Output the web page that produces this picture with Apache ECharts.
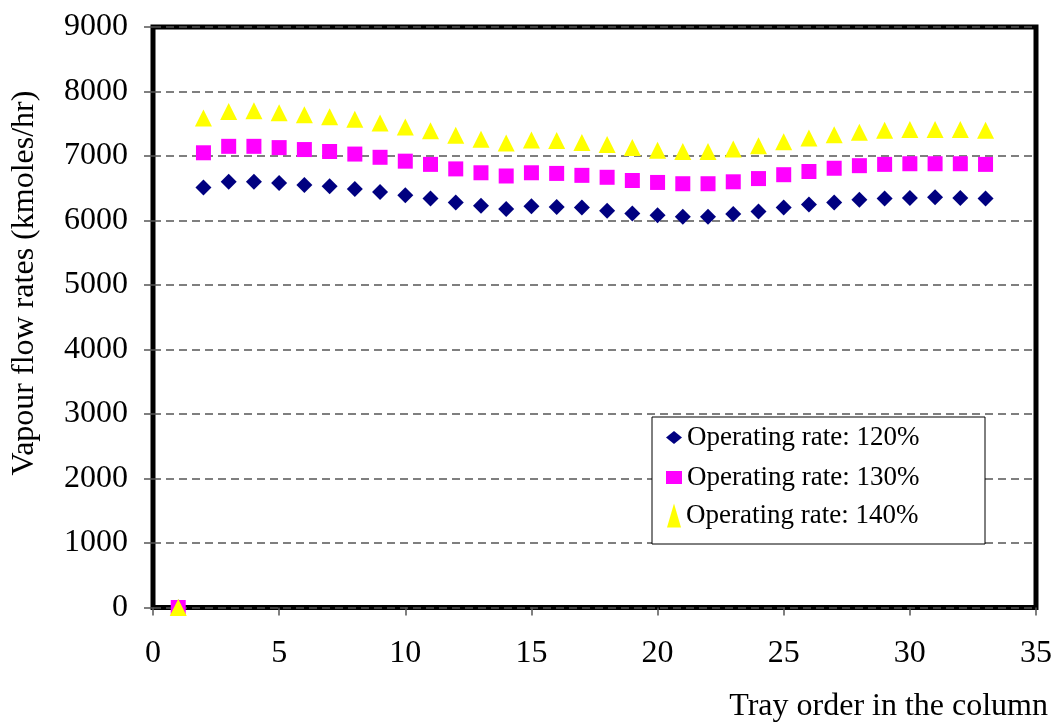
<!DOCTYPE html>
<html>
<head>
<meta charset="utf-8">
<title>Vapour flow rates by tray</title>
<script src="https://cdn.jsdelivr.net/npm/echarts@6/dist/echarts.min.js"></script>
<style>
  html, body { margin: 0; padding: 0; background: #fff; }
  #chart { width: 1055px; height: 724px; }
</style>
</head>
<body>
<div id="chart"></div>
<script>
// Tray numbers along the column
const trays = [1, 2, 3, 4, 5, 6, 7, 8, 9, 10, 11, 12, 13, 14, 15, 16, 17, 18, 19, 20,
               21, 22, 23, 24, 25, 26, 27, 28, 29, 30, 31, 32, 33];

// Vapour flow rates (kmoles/hr) at each operating rate
const rate120 = [0, 6510, 6600, 6600, 6580, 6550, 6530, 6490, 6440, 6390, 6340, 6280, 6230,
                 6180, 6220, 6210, 6200, 6150, 6110, 6080, 6060, 6060, 6100, 6140, 6200,
                 6250, 6280, 6320, 6340, 6350, 6360, 6350, 6340];
const rate130 = [0, 7050, 7150, 7150, 7130, 7100, 7070, 7030, 6980, 6920, 6870, 6800, 6740,
                 6690, 6740, 6730, 6700, 6670, 6620, 6590, 6570, 6570, 6600, 6650, 6710,
                 6760, 6810, 6850, 6870, 6880, 6880, 6880, 6870];
const rate140 = [0, 7590, 7690, 7700, 7670, 7640, 7610, 7570, 7510, 7450, 7390, 7320, 7260,
                 7200, 7250, 7240, 7210, 7180, 7130, 7090, 7070, 7070, 7110, 7160, 7220,
                 7280, 7330, 7370, 7400, 7410, 7410, 7410, 7400];

const seriesNames = ['Operating rate: 120%', 'Operating rate: 130%', 'Operating rate: 140%'];

// Axis tick settings
const xTicks = { min: 0, max: 35, interval: 5 };
const yTicks = { min: 0, max: 9000, interval: 1000 };

const SERIF = "'Liberation Serif', 'Times New Roman', serif";

function pairs(values) {
  return trays.map((t, i) => [t, values[i]]);
}

const chart = echarts.init(document.getElementById('chart'), null, { renderer: 'canvas' });

const legendText = { fontFamily: SERIF, fontSize: 27, color: '#000' };

chart.setOption({
  animation: false,
  backgroundColor: '#fff',
  grid: {
    left: 153, top: 27, right: 18, bottom: 116.5,
    show: true,
    borderColor: '#000',
    borderWidth: 5,
    backgroundColor: 'transparent'
  },
  xAxis: {
    type: 'value',
    min: xTicks.min, max: xTicks.max, interval: xTicks.interval,
    axisLine: { show: false },
    axisTick: { show: true, length: 8, lineStyle: { color: '#555', width: 1.5 } },
    splitLine: { show: false },
    axisLabel: { margin: 30, fontFamily: SERIF, fontSize: 32, color: '#000',
                 formatter: v => String(v) }
  },
  yAxis: {
    type: 'value',
    min: yTicks.min, max: yTicks.max, interval: yTicks.interval,
    axisLine: { show: false },
    axisTick: { show: true, length: 9, lineStyle: { color: '#555', width: 1.5 } },
    splitLine: { show: true, lineStyle: { color: '#555', width: 1.5, type: [8, 5] } },
    axisLabel: { margin: 25, fontFamily: SERIF, fontSize: 32, color: '#000',
                 formatter: v => String(v) }
  },
  legend: [
    {
      left: 666, top: 424, padding: 0, selectedMode: false,
      itemWidth: 16, itemHeight: 13, symbolKeepAspect: true,
      textStyle: legendText,
      data: [{ name: seriesNames[0], icon: 'diamond' }]
    },
    {
      left: 666, top: 464, padding: 0, selectedMode: false,
      itemWidth: 16, itemHeight: 13, symbolKeepAspect: true,
      textStyle: legendText,
      data: [{ name: seriesNames[1], icon: 'rect' }]
    },
    {
      left: 667, top: 502, padding: 0, selectedMode: false,
      itemWidth: 14, itemHeight: 24, symbolKeepAspect: false,
      textStyle: legendText,
      data: [{ name: seriesNames[2], icon: 'triangle' }]
    }
  ],
  graphic: [
    {
      type: 'rect', z: 3,
      shape: { x: 652, y: 417, width: 333, height: 127 },
      style: { fill: '#fff', stroke: '#000', lineWidth: 1 }
    },
    {
      type: 'text', z: 5,
      x: 25, y: 283, rotation: Math.PI / 2,
      style: {
        text: 'Vapour flow rates (kmoles/hr)',
        font: '32px ' + SERIF,
        fill: '#000', textAlign: 'center', textVerticalAlign: 'middle'
      }
    },
    {
      type: 'text', z: 5,
      x: 1048, y: 707,
      style: {
        text: 'Tray order in the column',
        font: '32px ' + SERIF,
        fill: '#000', textAlign: 'right', textVerticalAlign: 'middle'
      }
    }
  ],
  series: [
    {
      name: seriesNames[0], type: 'scatter', symbol: 'diamond', symbolSize: 16,
      itemStyle: { color: '#000080', opacity: 1 }, clip: false,
      data: pairs(rate120)
    },
    {
      name: seriesNames[1], type: 'scatter', symbol: 'rect', symbolSize: 15,
      itemStyle: { color: '#FF00FF', opacity: 1 }, clip: false,
      data: pairs(rate130)
    },
    {
      name: seriesNames[2], type: 'scatter', symbol: 'triangle', symbolSize: 17,
      itemStyle: { color: '#FFFF00', opacity: 1 }, clip: false,
      data: pairs(rate140)
    }
  ]
});
</script>
</body>
</html>
